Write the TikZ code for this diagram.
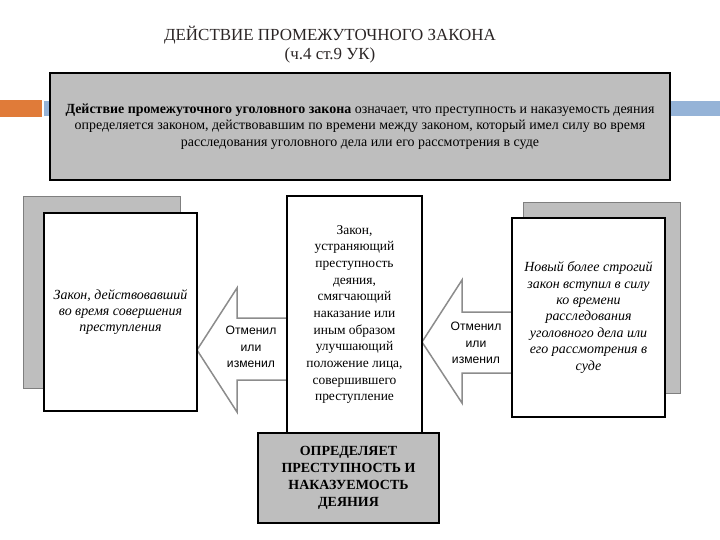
\documentclass[tikz,border=0pt]{standalone}
\usepackage{fontspec}
\setmainfont{Liberation Serif}
\setsansfont{Liberation Sans}
\definecolor{boxgray}{HTML}{BEBEBE}
\definecolor{shadowline}{HTML}{7F7F7F}
\definecolor{arrowline}{HTML}{8C8C8C}
\definecolor{barorange}{HTML}{E07B39}
\definecolor{barblue}{HTML}{95B3D7}
\definecolor{titlecol}{HTML}{2B2525}
\tikzset{
  box/.style={rectangle, inner sep=0pt, align=center},
  graybox/.style={box, fill=boxgray, draw=black, line width=1.2bp},
  shadowbox/.style={box, fill=boxgray, draw=shadowline, line width=0.8bp},
  whitebox/.style={box, fill=white, draw=black, line width=2bp},
  blockarrow/.style={fill=white, draw=arrowline, line width=1.5bp, line join=miter},
  arrowtext/.style={align=center, font=\sffamily\fontsize{12.2}{16.5}\selectfont},
  titletext/.style={text=titlecol, font=\fontsize{17}{19}\selectfont},
}
\begin{document}
\begin{tikzpicture}[x=1bp,y=-1bp]
\useasboundingbox (0,0) rectangle (720,540);
% decorative bars
\fill[barorange] (0,100) rectangle (42,117);
\fill[barblue] (44,101) rectangle (720,116);
% title
\node[titletext] (title) at (330,35) {ДЕЙСТВИЕ ПРОМЕЖУТОЧНОГО ЗАКОНА};
\node[titletext] (sub) at (330,55) {(ч.4 ст.9 УК)};
% definition box
\node[graybox, minimum width=620bp, minimum height=107bp, font=\fontsize{14}{16.5}\selectfont] (def) at (360,126.5)
  {\textbf{Действие промежуточного уголовного закона} означает, что преступность и наказуемость деяния\\
   определяется законом, действовавшим по времени между законом, который имел силу во время\\
   расследования уголовного дела или его рассмотрения в суде};
% arrows
\coordinate (ltip) at (197,350);
\draw[blockarrow] (ltip) -- (237,288) -- (237,318) -- (287,318) -- (287,380) -- (237,380) -- (237,412) -- cycle;
\node[arrowtext] (ltext) at (251,347) {Отменил\\или\\изменил};
\coordinate (rtip) at (422,342);
\draw[blockarrow] (rtip) -- (462,280) -- (462,312) -- (512,312) -- (512,373) -- (462,373) -- (462,403) -- cycle;
\node[arrowtext] (rtext) at (476,343) {Отменил\\или\\изменил};
% left boxes
\node[shadowbox, minimum width=157bp, minimum height=192bp] (lshadow) at (101.5,292) {};
\node[whitebox, minimum width=153bp, minimum height=198bp, font=\itshape\fontsize{14}{16}\selectfont] (lwhite) at (120.5,312)
  {Закон, действовавший\\во время совершения\\преступления};
% center box
\node[whitebox, minimum width=135bp, minimum height=237bp, font=\fontsize{13.5}{16.7}\selectfont] (center) at (354.5,314.5)
  {Закон,\\устраняющий\\преступность\\деяния,\\смягчающий\\наказание или\\иным образом\\улучшающий\\положение лица,\\совершившего\\преступление};
\node[graybox, line width=1.5bp, minimum width=181bp, minimum height=90bp, font=\bfseries\fontsize{14}{17}\selectfont] (determ) at (348.5,478)
  {ОПРЕДЕЛЯЕТ\\ПРЕСТУПНОСТЬ И\\НАКАЗУЕМОСТЬ\\ДЕЯНИЯ};
% right boxes
\node[shadowbox, minimum width=157bp, minimum height=191bp] (rshadow) at (601.5,297.5) {};
\node[whitebox, minimum width=153bp, minimum height=199bp, font=\itshape\fontsize{14}{16.5}\selectfont] (rwhite) at (588.5,317.5)
  {Новый более строгий\\закон вступил в силу\\ко времени\\расследования\\уголовного дела или\\его рассмотрения в\\суде};
\end{tikzpicture}
\end{document}
